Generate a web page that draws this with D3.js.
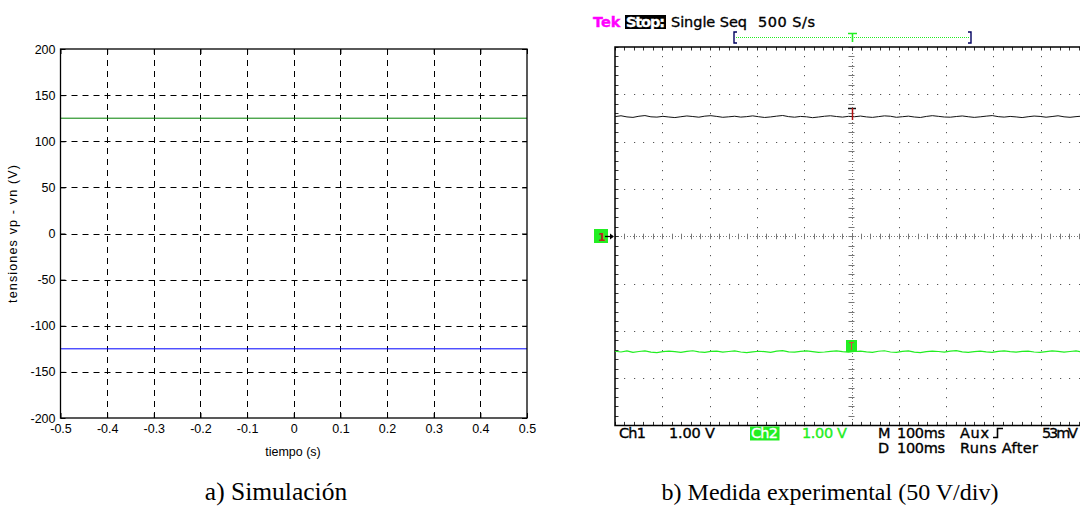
<!DOCTYPE html>
<html>
<head>
<meta charset="utf-8">
<script src="https://cdn.jsdelivr.net/npm/d3@7"></script>
<style>
  html, body { margin: 0; padding: 0; background: #fff; }
  svg { display: block; }
</style>
</head>
<body>
<svg id="fig" width="1080" height="513"></svg>
<script>
// ---- Simulation panel data ----
const simTimeTicks = [-0.5, -0.4, -0.3, -0.2, -0.1, 0, 0.1, 0.2, 0.3, 0.4, 0.5];
const simVoltTicks = [-200, -150, -100, -50, 0, 50, 100, 150, 200];
const simTime = [-0.5, 0.5];
const vpSim = [125, 125];      // green trace
const vnSim = [-125, -125];    // blue trace

// ---- Oscilloscope capture data (50 V/div, 100 ms/div) ----
const ch1Volts = [
  126.4,127.3,126.1,125.6,126.8,127.5,126.2,125.9,126.7,126.0,125.4,126.3,127.1,126.5,125.8,126.9,127.4,126.6,125.7,126.2,
  126.8,125.9,126.4,127.2,126.3,125.5,126.1,126.9,127.6,126.4,125.8,126.6,126.2,125.3,126.0,126.8,127.3,126.5,125.9,126.7,
  126.3,127.0,126.1,125.6,126.4,127.2,126.8,125.7,126.3,126.9,126.0,125.5,126.6,127.4,126.7,126.0,125.8,126.5,127.1,126.3,
  125.6,126.2,126.9,127.5,126.4,125.9,126.6,126.1,125.4,126.3,127.0,126.6,125.8,126.5,127.3,126.2,125.7,126.4,126.9,126.1
];
const ch2Volts = [
  -121.6,-122.4,-121.2,-122.8,-121.9,-121.3,-122.5,-123.0,-122.1,-121.4,-122.0,-122.7,-121.8,-121.1,-122.3,-122.9,-121.7,-121.5,-122.6,-121.9,
  -121.2,-122.4,-123.1,-122.2,-121.6,-122.0,-122.8,-121.5,-121.0,-122.3,-122.6,-121.8,-121.3,-122.1,-122.9,-122.4,-121.7,-121.2,-122.0,-122.5,
  -121.9,-121.4,-122.2,-122.8,-121.6,-121.1,-122.4,-122.7,-121.8,-121.3,-122.5,-123.0,-122.1,-121.5,-121.9,-122.6,-121.4,-121.0,-122.2,-122.8,
  -122.0,-121.5,-122.3,-122.9,-121.7,-121.2,-122.1,-122.6,-121.8,-121.4,-122.4,-122.9,-122.0,-121.3,-121.7,-122.5,-121.9,-121.2,-122.3,-122.7
];
const scopeTimeDomain = [-0.5, 0.5];
const scopeVoltDomain = [-200, 200];

const captions = ["a) Simulación", "b) Medida experimental (50 V/div)"];

const svg = d3.select("#fig");

// =================== Panel a: simulation ===================
const sx = d3.scaleLinear().domain([-0.5, 0.5]).range([60.5, 527]);
const sy = d3.scaleLinear().domain([-200, 200]).range([418, 49]);
const simFont = "'Liberation Sans', Arial, sans-serif";
const simFontSize = 12.5;
const plainNum = d => String(d);   // ASCII hyphen for negatives

const gA = svg.append("g");

// dashed grid
gA.append("g").selectAll("line.vg")
  .data(simTimeTicks.slice(1, -1)).join("line")
  .attr("x1", d => Math.round(sx(d)) + 0.5).attr("x2", d => Math.round(sx(d)) + 0.5)
  .attr("y1", sy(200)).attr("y2", sy(-200))
  .attr("stroke", "#000").attr("stroke-width", 1).attr("stroke-dasharray", "6,5");
gA.append("g").selectAll("line.hg")
  .data(simVoltTicks.slice(1, -1)).join("line")
  .attr("x1", sx(-0.5)).attr("x2", sx(0.5))
  .attr("y1", d => Math.round(sy(d)) + 0.5).attr("y2", d => Math.round(sy(d)) + 0.5)
  .attr("stroke", "#000").attr("stroke-width", 1).attr("stroke-dasharray", "6,5");

// traces
const simLine = vals => d3.line().x((d, i) => sx(simTime[i])).y(d => sy(d))(vals);
gA.append("path").attr("d", simLine(vpSim)).attr("fill", "none").attr("stroke", "#008000").attr("stroke-width", 1);
gA.append("path").attr("d", simLine(vnSim)).attr("fill", "none").attr("stroke", "#0000ff").attr("stroke-width", 1);

// axes (ticks pointing inward)
const styleAxis = g => {
  g.select(".domain").remove();
  g.selectAll(".tick line").attr("stroke", "#000");
  g.selectAll(".tick text").attr("font-family", simFont).attr("font-size", simFontSize).attr("fill", "#000");
};
gA.append("g").attr("transform", `translate(0,${sy(-200)})`)
  .call(d3.axisBottom(sx).tickValues(simTimeTicks).tickSize(-5).tickPadding(6).tickFormat(plainNum))
  .call(styleAxis);
gA.append("g").attr("transform", `translate(0,${sy(200)})`)
  .call(d3.axisTop(sx).tickValues(simTimeTicks).tickSize(-5).tickFormat(""))
  .call(styleAxis);
gA.append("g").attr("transform", `translate(${sx(-0.5)},0)`)
  .call(d3.axisLeft(sy).tickValues(simVoltTicks).tickSize(-5).tickPadding(5).tickFormat(plainNum))
  .call(styleAxis);
gA.append("g").attr("transform", `translate(${sx(0.5)},0)`)
  .call(d3.axisRight(sy).tickValues(simVoltTicks).tickSize(-5).tickFormat(""))
  .call(styleAxis);

// frame
gA.append("rect")
  .attr("x", sx(-0.5)).attr("y", sy(200))
  .attr("width", sx(0.5) - sx(-0.5)).attr("height", sy(-200) - sy(200))
  .attr("fill", "none").attr("stroke", "#000").attr("stroke-width", 1.3);

// axis titles
gA.append("text").attr("x", 293).attr("y", 456).attr("text-anchor", "middle")
  .attr("font-family", simFont).attr("font-size", simFontSize).text("tiempo (s)");
gA.append("text").attr("transform", "translate(17,234) rotate(-90)").attr("text-anchor", "middle")
  .attr("font-family", simFont).attr("font-size", simFontSize).attr("textLength", 138).text("tensiones vp - vn (V)");

// =================== Panel b: oscilloscope ===================
const ox = d3.scaleLinear().domain(scopeTimeDomain).range([615, 1088]);
const oy = d3.scaleLinear().domain(scopeVoltDomain).range([425.4, 47]);
const gB = svg.append("g");
const gridCol = "#555";

const minorT = d3.range(-0.5, 0.5001, 0.02);
const minorV = d3.range(-200, 200.01, 10);
const majorT = d3.range(-0.4, 0.4001, 0.1).filter(t => Math.abs(t) > 1e-6);
const majorV = d3.range(-150, 150.01, 50).filter(v => Math.abs(v) > 1e-6);

// dotted graticule lines
majorT.forEach(t => {
  gB.append("g").selectAll("rect").data(minorV).join("rect")
    .attr("x", Math.round(ox(t))).attr("y", d => Math.round(oy(d)))
    .attr("width", 1).attr("height", 1.2).attr("fill", gridCol);
});
majorV.forEach(v => {
  gB.append("g").selectAll("rect").data(minorT).join("rect")
    .attr("x", d => Math.round(ox(d))).attr("y", Math.round(oy(v)))
    .attr("width", 1.2).attr("height", 1).attr("fill", gridCol);
});

// centre cross lines with ticks
gB.append("line").attr("x1", ox(-0.5)).attr("x2", 1080).attr("y1", Math.round(oy(0)) + 0.5).attr("y2", Math.round(oy(0)) + 0.5)
  .attr("stroke", "#777").attr("stroke-dasharray", "1,2");
gB.append("line").attr("x1", Math.round(ox(0)) + 0.5).attr("x2", Math.round(ox(0)) + 0.5).attr("y1", oy(200)).attr("y2", oy(-200))
  .attr("stroke", "#777").attr("stroke-dasharray", "1,2");
gB.append("g").selectAll("line").data(minorT).join("line")
  .attr("x1", d => Math.round(ox(d)) + 0.5).attr("x2", d => Math.round(ox(d)) + 0.5)
  .attr("y1", oy(0) - 2.5).attr("y2", oy(0) + 3)
  .attr("stroke", "#777");
gB.append("g").selectAll("line").data(minorV).join("line")
  .attr("y1", d => Math.round(oy(d)) + 0.5).attr("y2", d => Math.round(oy(d)) + 0.5)
  .attr("x1", ox(0) - 3).attr("x2", ox(0) + 3)
  .attr("stroke", "#777");

// border minor ticks
gB.append("g").selectAll("line").data(minorT).join("line")
  .attr("x1", d => Math.round(ox(d)) + 0.5).attr("x2", d => Math.round(ox(d)) + 0.5)
  .attr("y1", oy(200)).attr("y2", oy(200) + 3.5).attr("stroke", "#333");
gB.append("g").selectAll("line").data(minorT).join("line")
  .attr("x1", d => Math.round(ox(d)) + 0.5).attr("x2", d => Math.round(ox(d)) + 0.5)
  .attr("y1", oy(-200)).attr("y2", oy(-200) - 3.5).attr("stroke", "#333");
gB.append("g").selectAll("line").data(minorV).join("line")
  .attr("y1", d => Math.round(oy(d)) + 0.5).attr("y2", d => Math.round(oy(d)) + 0.5)
  .attr("x1", ox(-0.5)).attr("x2", ox(-0.5) + 3.5).attr("stroke", "#333");

// frame (left, top, bottom)
gB.append("path")
  .attr("d", `M1080,${oy(200)}H${ox(-0.5)}V${oy(-200)}H1080`)
  .attr("fill", "none").attr("stroke", "#000").attr("stroke-width", 1.5);

// traces
const tOf = (arr) => arr.map((v, i) => scopeTimeDomain[0] + i * (scopeTimeDomain[1] - scopeTimeDomain[0]) / (arr.length - 1));
const scopeLine = arr => {
  const ts = tOf(arr);
  return d3.line().x((d, i) => ox(ts[i])).y(d => oy(d))(arr);
};
gB.append("path").attr("d", scopeLine(ch1Volts)).attr("fill", "none").attr("stroke", "#111").attr("stroke-width", 1);
gB.append("path").attr("d", scopeLine(ch2Volts)).attr("fill", "none").attr("stroke", "#22ee22").attr("stroke-width", 1.2);

// trigger markers on the traces
const cx = Math.round(ox(0));
gB.append("line").attr("x1", cx - 4).attr("x2", cx + 4).attr("y1", 108.5).attr("y2", 108.5).attr("stroke", "#111").attr("stroke-width", 1.5);
gB.append("line").attr("x1", cx + 0.5).attr("x2", cx + 0.5).attr("y1", 108).attr("y2", 120).attr("stroke", "#b01010").attr("stroke-width", 1.5);
gB.append("rect").attr("x", cx - 6).attr("y", 340).attr("width", 11).attr("height", 12).attr("fill", "#22ee22");
gB.append("line").attr("x1", cx - 3).attr("x2", cx + 2).attr("y1", 342.5).attr("y2", 342.5).attr("stroke", "#e04040");
gB.append("line").attr("x1", cx - 0.5).attr("x2", cx - 0.5).attr("y1", 342).attr("y2", 350).attr("stroke", "#e04040");

// channel-1 ground marker
gB.append("rect").attr("x", 594).attr("y", 229).attr("width", 14).attr("height", 14).attr("fill", "#22ee22");
gB.append("text").attr("x", 598).attr("y", 241).attr("font-family", "'DejaVu Sans', sans-serif").attr("font-weight", "bold")
  .attr("font-size", 11).attr("fill", "#c02020").text("1");
gB.append("line").attr("x1", 605).attr("x2", 613).attr("y1", 236.5).attr("y2", 236.5).attr("stroke", "#000").attr("stroke-width", 1.3);
gB.append("path").attr("d", "M610,233.5L614,236.5L610,239.5Z").attr("fill", "#000");

// header / footer text in the scope's display font
const scopeFont = "'DejaVu Sans', Verdana, sans-serif";
const txt = (x, y, s, col, extra) => {
  const t = gB.append("text").attr("x", x).attr("y", y).attr("font-family", scopeFont)
    .attr("font-size", 14.5).attr("fill", col)
    .attr("stroke", col).attr("stroke-width", 0.35).text(s);
  if (extra) extra(t);
  return t;
};
txt(593, 26.5, "Tek", "#ff00ff", t => t.attr("font-weight", "bold"));
gB.append("rect").attr("x", 625).attr("y", 15).attr("width", 41).attr("height", 14).attr("fill", "#000");
txt(626, 26.5, "Stop:", "#fff", t => t.attr("font-weight", "bold").attr("textLength", 39));
txt(671, 26.5, "Single Seq", "#000", t => t.attr("textLength", 76));
txt(758, 26.5, "500 S/s", "#000", t => t.attr("textLength", 57));

// record position bar
gB.append("line").attr("x1", 736).attr("x2", 969).attr("y1", 37.5).attr("y2", 37.5)
  .attr("stroke", "#22ee22").attr("stroke-dasharray", "1,1");
gB.append("path").attr("d", "M737,32H734V43H737").attr("fill", "none").attr("stroke", "#000060").attr("stroke-width", 1.4);
gB.append("path").attr("d", "M968,32H971V43H968").attr("fill", "none").attr("stroke", "#000060").attr("stroke-width", 1.4);
gB.append("path").attr("d", `M${cx - 4},33.5H${cx + 5}M${cx + 0.5},33V42`).attr("stroke", "#22ee22").attr("stroke-width", 1.6);

txt(619, 438, "Ch1", "#000", t => t.attr("textLength", 27));
txt(669, 438, "1.00 V", "#000", t => t.attr("textLength", 46));
gB.append("rect").attr("x", 750).attr("y", 426.5).attr("width", 29.5).attr("height", 14).attr("fill", "#22ee22");
txt(751, 438, "Ch2", "#fff", t => t.attr("textLength", 27));
txt(802, 438, "1.00 V", "#22ee22", t => t.attr("textLength", 45));
txt(878, 438, "M", "#000");
txt(897, 438, "100ms", "#000", t => t.attr("textLength", 48));
txt(960, 438, "Aux", "#000", t => t.attr("textLength", 29));
gB.append("path").attr("d", "M993,437.5H997.5V428.5H1003").attr("fill", "none").attr("stroke", "#000").attr("stroke-width", 1.6);
txt(1042, 438, "53mV", "#000", t => t.attr("textLength", 36));
txt(878, 453, "D", "#000");
txt(897, 453, "100ms", "#000", t => t.attr("textLength", 48));
txt(960, 453, "Runs After", "#000", t => t.attr("textLength", 78));

// =================== Captions ===================
const capFont = "'Liberation Serif', 'Times New Roman', serif";
svg.append("text").attr("x", 276).attr("y", 500).attr("text-anchor", "middle")
  .attr("font-family", capFont).attr("font-size", 25.5).text(captions[0]);
svg.append("text").attr("x", 830).attr("y", 500).attr("text-anchor", "middle")
  .attr("font-family", capFont).attr("font-size", 24).text(captions[1]);
</script>
</body>
</html>
